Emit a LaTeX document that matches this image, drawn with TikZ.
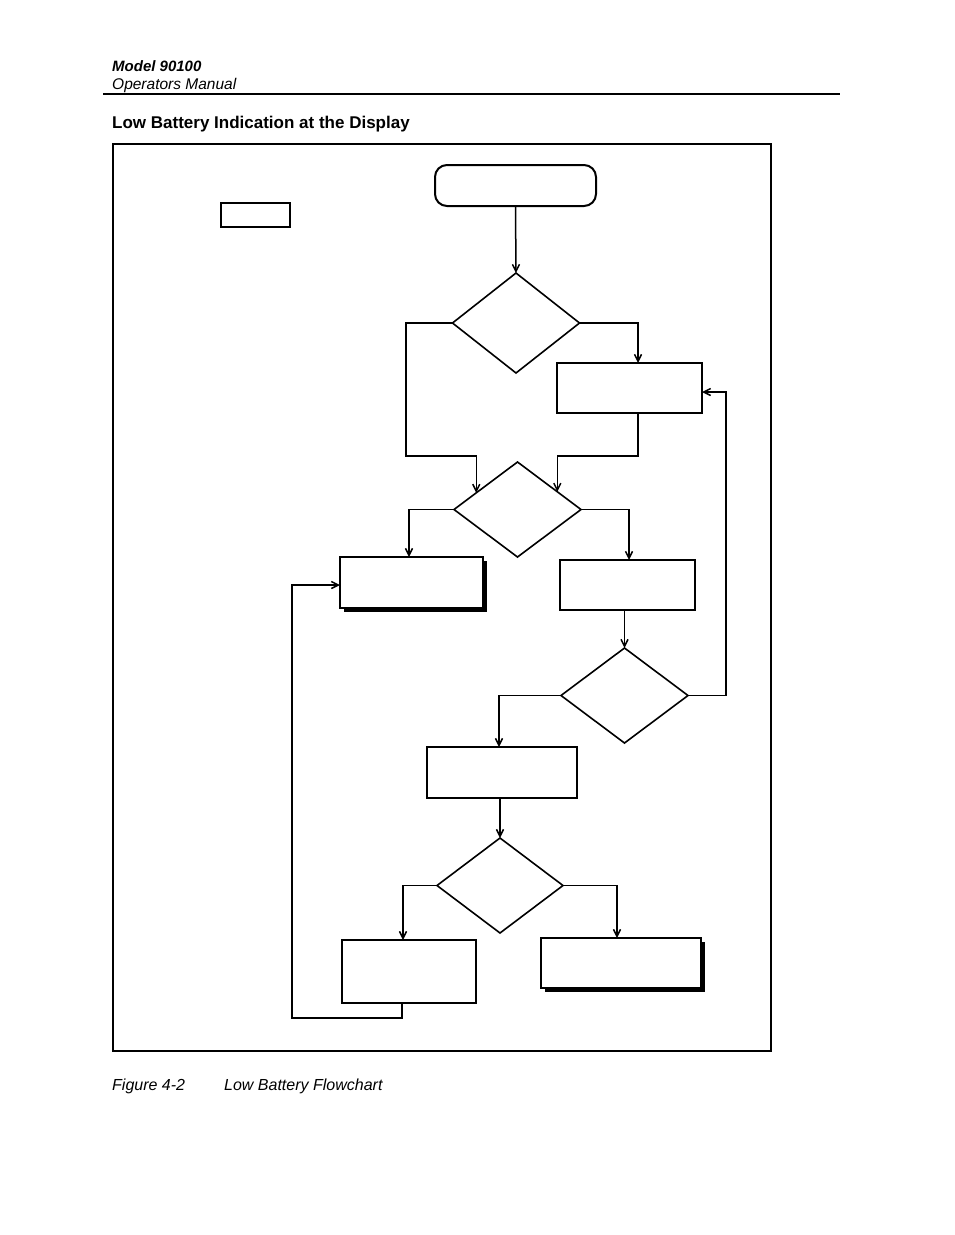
\documentclass[tikz,border=0pt]{standalone}
\usepackage{fontspec}
\setmainfont{Liberation Sans}
\usetikzlibrary{shapes.geometric,shadows,arrows.meta}
\begin{document}
\begin{tikzpicture}[x=1pt,y=-1pt,
  txt/.style={anchor=base west, inner sep=0pt},
  box/.style={draw, rectangle, line width=2pt, inner sep=0pt, outer sep=0pt, fill=white},
  shbox/.style={box, drop shadow={shadow xshift=3.5pt, shadow yshift=-3.5pt, opacity=1, fill=black}},
  dia/.style={draw, diamond, line width=1.6pt, inner sep=0pt, outer sep=0pt, minimum width=127pt},
  arr/.style={line width=1.5pt, -{Straight Barb[length=7pt,width=7pt]}},
  ln/.style={line width=1.5pt}
]
\useasboundingbox (0,0) rectangle (954,1235);
% header
\node[txt, font=\fontsize{15}{18}\selectfont\bfseries\itshape] (hdr1) at (112,71) {Model 90100};
\node[txt, font=\fontsize{15.5}{18}\selectfont\itshape] (hdr2) at (112,89) {Operators Manual};
\draw[line width=1.2pt] (103,94) -- (840,94);
\node[txt, font=\fontsize{17}{20}\selectfont\bfseries] (title) at (112,128) {Low Battery Indication at the Display};
% frame
\draw[line width=1.7pt] (113,144) rectangle (771,1051);
% caption
\node[txt, font=\fontsize{16}{18}\selectfont\itshape] (cap1) at (112,1090) {Figure 4-2};
\node[txt, font=\fontsize{16}{18}\selectfont\itshape] (cap2) at (224,1090) {Low Battery Flowchart};
% nodes
\node[box, rounded corners=12pt, minimum width=161pt, minimum height=41pt] (start) at (515.5,185.5) {};
\node[box, line width=1.5pt, minimum width=69pt, minimum height=24pt] (legend) at (255.5,215) {};
\draw[line width=2.5pt] (legend.south west) -- (legend.south east);
\node[dia, minimum height=100pt] (d1) at (516,323) {};
\node[box, minimum width=145pt, minimum height=50pt] (A) at (629.5,388) {};
\node[dia, minimum height=95pt] (d2) at (517.5,509.5) {};
\node[shbox, minimum width=143pt, minimum height=51pt] (B) at (411.5,582.5) {};
\node[box, minimum width=135pt, minimum height=50pt] (C) at (627.5,585) {};
\node[dia, minimum height=95pt] (d3) at (624.5,695.5) {};
\node[box, minimum width=150pt, minimum height=51pt] (D) at (502,772.5) {};
\node[dia, minimum height=95pt, minimum width=126pt] (d4) at (500,885.5) {};
\node[box, minimum width=134pt, minimum height=63pt] (E) at (409,971.5) {};
\node[shbox, minimum width=160pt, minimum height=50pt] (F) at (621,963) {};
% bend coordinates
\coordinate (xa) at (638,0);
\coordinate (xb) at (409,0);
\coordinate (xc) at (629,0);
\coordinate (xd) at (499,0);
\coordinate (xe) at (403,0);
\coordinate (xf) at (617,0);
\coordinate (xg) at (402,0);
\coordinate (bendL) at (406,456);
\coordinate (bendR) at (726,392);
\coordinate (bendE) at (292,1018);
% connectors
\draw[arr] (start.south) -- (d1.north);
\draw[arr] (d1.west) -| (bendL) -| (d2.158);
\draw[arr] (d1.east) -| (A.north -| xa);
\draw[arr] (A.south -| xa) -- ++(0,43) -| (d2.24);
\draw[arr] (d2.west) -| (B.north -| xb);
\draw[arr] (d2.east) -| (C.north -| xc);
\draw[arr] (C.south -| d3.north) -- (d3.north);
\draw[arr] (d3.east) -| (bendR) -- (A.east |- bendR);
\draw[arr] (d3.west) -| (D.north -| xd);
\draw[arr] (D.south -| d4.north) -- (d4.north);
\draw[arr] (d4.west) -| (E.north -| xe);
\draw[arr] (d4.east) -| (F.north -| xf);
\draw[arr] (E.south -| xg) |- (bendE) |- (B.west |- 0,585);
\end{tikzpicture}
\end{document}
